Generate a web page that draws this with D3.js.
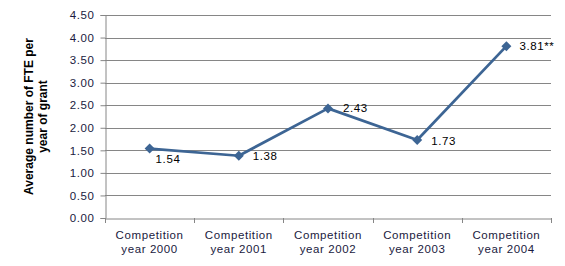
<!DOCTYPE html>
<html>
<head>
<meta charset="utf-8">
<script src="https://cdn.jsdelivr.net/npm/d3@7"></script>
<style>
  body { margin: 0; background: #fff; }
  text { font-family: Arial, "Liberation Sans", sans-serif; }
</style>
</head>
<body>
<svg width="565" height="266"></svg>
<script>
// Data
const categories = ["Competition year 2000", "Competition year 2001", "Competition year 2002", "Competition year 2003", "Competition year 2004"];
const values = [1.54, 1.38, 2.43, 1.73, 3.81];
const valueLabels = ["1.54", "1.38", "2.43", "1.73", "3.81**"];
const yTicks = [0, 0.5, 1, 1.5, 2, 2.5, 3, 3.5, 4, 4.5];

const svg = d3.select("svg");
const margin = { left: 105, right: 14, top: 15, bottom: 48 };
const width = 565, height = 266;

const x = d3.scaleBand()
    .domain(categories)
    .range([margin.left, width - margin.right]);

const y = d3.scaleLinear()
    .domain([0, 4.5])
    .range([height - margin.bottom, margin.top]);

const gridColor = "#868686";
const textColor = "#1a1a40";
const lineColor = "#3d6594";
const spacing = "0.6px";

// Gridlines
svg.append("g")
  .selectAll("line")
  .data(yTicks.filter(d => d > 0))
  .enter().append("line")
    .attr("x1", margin.left)
    .attr("x2", width - margin.right)
    .attr("y1", d => Math.round(y(d)) + 0.5)
    .attr("y2", d => Math.round(y(d)) + 0.5)
    .attr("stroke", gridColor)
    .attr("stroke-width", 1);

// Y axis
const yAxis = svg.append("g")
    .attr("transform", `translate(${margin.left + 0.5},0)`)
    .call(d3.axisLeft(y).tickValues(yTicks).tickFormat(d3.format(".2f")).tickSize(5).tickPadding(6));
yAxis.select(".domain").attr("stroke", gridColor);
yAxis.selectAll(".tick line").attr("stroke", gridColor);
yAxis.selectAll(".tick text").attr("fill", textColor).style("font-size", "11.5px").style("letter-spacing", spacing);

// X axis
const xAxis = svg.append("g")
    .attr("transform", `translate(0,${Math.round(y(0)) + 0.5})`)
    .call(d3.axisBottom(x).tickSize(0).tickFormat(""));
xAxis.select(".domain").attr("stroke", gridColor);

// x tick marks at band boundaries
svg.append("g")
  .selectAll("line")
  .data(categories.concat(["end"]))
  .enter().append("line")
    .attr("x1", (d, i) => Math.round(margin.left + i * x.bandwidth()) + 0.5)
    .attr("x2", (d, i) => Math.round(margin.left + i * x.bandwidth()) + 0.5)
    .attr("y1", y(0))
    .attr("y2", y(0) + 5)
    .attr("stroke", gridColor);

// x labels, two lines
const xl = svg.append("g")
  .selectAll("text")
  .data(categories)
  .enter().append("text")
    .attr("text-anchor", "middle")
    .attr("fill", textColor)
    .style("font-size", "11.5px")
    .style("letter-spacing", spacing)
    .attr("x", d => x(d) + x.bandwidth() / 2);
xl.append("tspan")
    .attr("x", d => x(d) + x.bandwidth() / 2)
    .attr("y", y(0) + 21)
    .text(d => d.split(" ")[0]);
xl.append("tspan")
    .attr("x", d => x(d) + x.bandwidth() / 2)
    .attr("y", y(0) + 35)
    .text(d => d.split(" ").slice(1).join(" "));

// Y axis title
const yt = svg.append("text")
    .attr("transform", `translate(33,${(margin.top + y(0)) / 2}) rotate(-90)`)
    .attr("text-anchor", "middle")
    .style("font-size", "12px")
    .style("font-weight", "bold")
    .attr("fill", "#000");
yt.append("tspan").attr("x", 0).attr("y", 0).text("Average number of FTE per");
yt.append("tspan").attr("x", 0).attr("y", 14).text("year of grant");

// Line
const pts = categories.map((c, i) => ({ c, v: values[i], label: valueLabels[i] }));
svg.append("path")
    .datum(pts)
    .attr("fill", "none")
    .attr("stroke", lineColor)
    .attr("stroke-width", 2.75)
    .attr("stroke-linejoin", "round")
    .attr("d", d3.line().x(d => x(d.c) + x.bandwidth() / 2).y(d => y(d.v)));

// Markers (diamonds: squares turned 45 degrees)
svg.append("g")
  .selectAll("path")
  .data(pts)
  .enter().append("path")
    .attr("d", d3.symbol().type(d3.symbolSquare).size(50))
    .attr("transform", d => `translate(${x(d.c) + x.bandwidth() / 2},${y(d.v)}) rotate(45)`)
    .attr("fill", lineColor);

// Data labels
const labelOffsets = [[6, 14], [14, 4], [15, 4], [14, 5], [13, 4]];
svg.append("g")
  .selectAll("text")
  .data(pts)
  .enter().append("text")
    .attr("x", (d, i) => x(d.c) + x.bandwidth() / 2 + labelOffsets[i][0])
    .attr("y", (d, i) => y(d.v) + labelOffsets[i][1])
    .attr("fill", "#000")
    .style("font-size", "11.5px")
    .style("letter-spacing", spacing)
    .text(d => d.label);
</script>
</body>
</html>
